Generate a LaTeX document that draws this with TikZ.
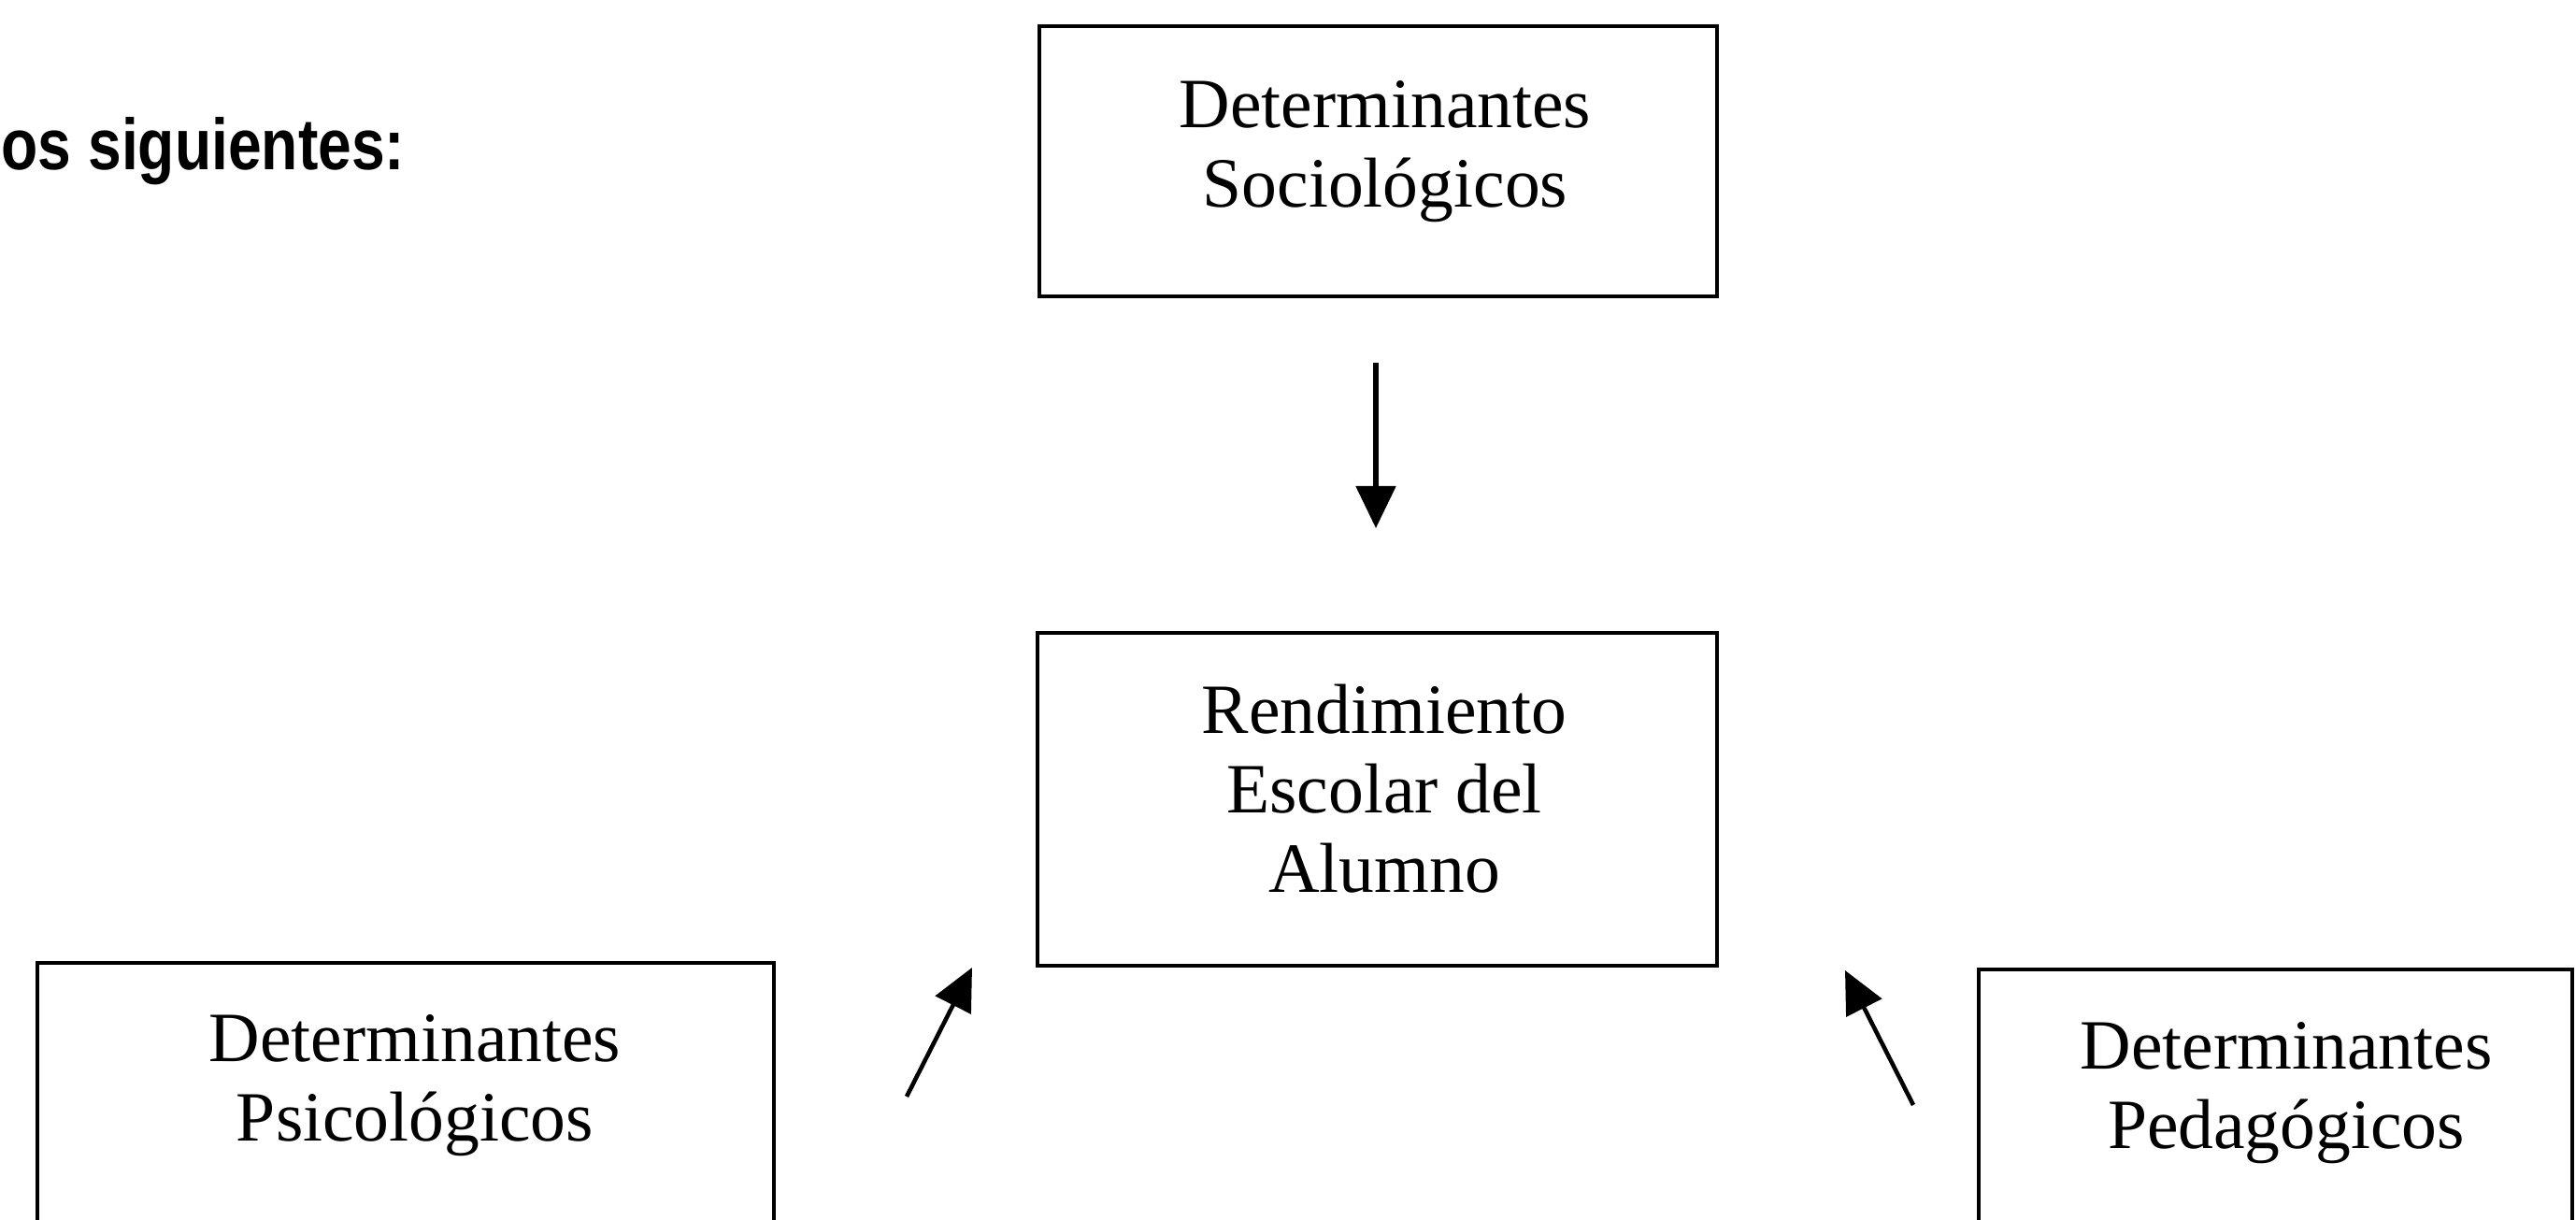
\documentclass[tikz,border=0pt]{standalone}
\usepackage{fontspec}
\setmainfont{Liberation Serif}
\newfontfamily\headfont[FakeStretch=0.83]{Liberation Sans}
\usetikzlibrary{arrows.meta}
\tikzset{
  box/.style={draw=black, line width=1.4pt, rectangle, inner sep=0pt},
  boxtext/.style={align=center, inner sep=0pt, font=\fontsize{21.5}{24.2}\selectfont},
  arr/.style={line width=1.5pt, -{Triangle[length=0.45cm,width=0.42cm]}},
  head/.style={inner sep=0pt, font=\headfont\bfseries\fontsize{22}{26}\selectfont}
}
\begin{document}
\begin{tikzpicture}
\useasboundingbox (0,0) rectangle (27.56,13.05);
\clip (0,0) rectangle (27.56,13.05);
% heading fragment
\node[head, anchor=base west] (hd) at (0.01,11.23) {os siguientes:};
% boxes
\node[box, minimum width=7.25cm, minimum height=2.89cm] (soc) at (14.745,11.325) {};
\node[box, minimum width=7.27cm, minimum height=3.56cm] (rend) at (14.735,4.50) {};
\node[box, minimum width=7.88cm, minimum height=4.00cm] (psi) at (4.34,0.75) {};
\node[box, minimum width=6.35cm, minimum height=4.00cm] (ped) at (24.345,0.68) {};
% texts
\node[boxtext] (soct) at (14.82,11.43) {Determinantes\\Sociológicos};
\node[boxtext] (rendt) at (14.81,4.615) {Rendimiento\\Escolar del\\Alumno};
\node[boxtext] (psit) at (4.44,1.44) {Determinantes\\Psicológicos};
\node[boxtext] (pedt) at (24.46,1.36) {Determinantes\\Pedagógicos};
% arrow end points
\coordinate (a1s) at (14.72,9.17);
\coordinate (a1e) at (14.72,7.40);
\coordinate (a2s) at (9.70,1.32);
\coordinate (a2e) at (10.40,2.70);
\coordinate (a3s) at (20.47,1.23);
\coordinate (a3e) at (19.74,2.67);
% arrows
\draw[arr] (a1s) -- (a1e);
\draw[arr, line width=1.3pt] (a2s) -- (a2e);
\draw[arr, line width=1.3pt] (a3s) -- (a3e);
\end{tikzpicture}
\end{document}
